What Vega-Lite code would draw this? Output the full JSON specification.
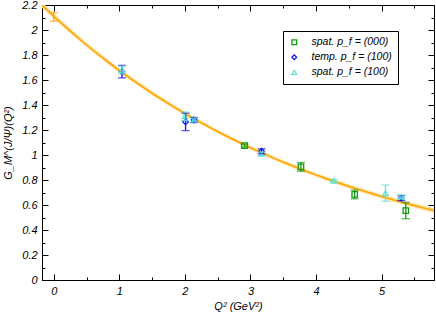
{
  "$schema": "https://vega.github.io/schema/vega-lite/v6.json",
  "autosize": {"type": "none"},
  "width": 392,
  "height": 275,
  "padding": {"left": 42, "top": 5, "right": 2, "bottom": 32},
  "background": "white",
  "config": {
    "view": {"stroke": "black", "strokeWidth": 1},
    "axis": {"labelFont": "Liberation Sans", "labelFontStyle": "italic", "labelFontSize": 11, "labelColor": "black", "titleFont": "Liberation Sans", "titleFontStyle": "italic", "titleFontWeight": "normal", "titleFontSize": 11, "titleColor": "black", "domainColor": "black", "tickColor": "black", "grid": false},
    "legend": {"labelFont": "Liberation Sans", "labelFontStyle": "italic", "labelFontSize": 10.5, "labelColor": "black"}
  },
  "datasets": {
    "curve": [
      {"q2": -0.2, "g": 2.209}, {"q2": 0.0, "g": 2.110}, {"q2": 0.2, "g": 2.015}, {"q2": 0.4, "g": 1.924},
      {"q2": 0.6, "g": 1.838}, {"q2": 0.8, "g": 1.755}, {"q2": 1.0, "g": 1.676}, {"q2": 1.2, "g": 1.601},
      {"q2": 1.4, "g": 1.529}, {"q2": 1.6, "g": 1.460}, {"q2": 1.8, "g": 1.395}, {"q2": 2.0, "g": 1.332},
      {"q2": 2.2, "g": 1.272}, {"q2": 2.4, "g": 1.215}, {"q2": 2.6, "g": 1.160}, {"q2": 2.8, "g": 1.108},
      {"q2": 3.0, "g": 1.058}, {"q2": 3.2, "g": 1.011}, {"q2": 3.4, "g": 0.965}, {"q2": 3.6, "g": 0.922},
      {"q2": 3.8, "g": 0.880}, {"q2": 4.0, "g": 0.841}, {"q2": 4.2, "g": 0.803}, {"q2": 4.4, "g": 0.767},
      {"q2": 4.6, "g": 0.732}, {"q2": 4.8, "g": 0.700}, {"q2": 5.0, "g": 0.668}, {"q2": 5.2, "g": 0.638},
      {"q2": 5.4, "g": 0.609}, {"q2": 5.6, "g": 0.582}, {"q2": 5.8, "g": 0.556}, {"q2": 6.0, "g": 0.531}
    ],
    "band": [
      {"q2": -0.2, "lo": 2.185, "hi": 2.233}, {"q2": 0.0, "lo": 2.088, "hi": 2.132}, {"q2": 0.5, "lo": 1.860, "hi": 1.900},
      {"q2": 1.0, "lo": 1.657, "hi": 1.695}, {"q2": 1.5, "lo": 1.476, "hi": 1.512}, {"q2": 2.0, "lo": 1.315, "hi": 1.349},
      {"q2": 2.5, "lo": 1.171, "hi": 1.203}, {"q2": 3.0, "lo": 1.042, "hi": 1.074}, {"q2": 3.5, "lo": 0.927, "hi": 0.959},
      {"q2": 4.0, "lo": 0.825, "hi": 0.857}, {"q2": 4.5, "lo": 0.733, "hi": 0.767}, {"q2": 5.0, "lo": 0.650, "hi": 0.686},
      {"q2": 5.5, "lo": 0.576, "hi": 0.614}, {"q2": 6.0, "lo": 0.510, "hi": 0.552}
    ],
    "pts": [
      {"s": "Q2=0", "q2": 0.0, "g": 2.105, "lo": 2.07, "hi": 2.14},
      {"s": "spat. p_f = (000)", "q2": 2.91, "g": 1.075, "lo": 1.063, "hi": 1.087},
      {"s": "spat. p_f = (000)", "q2": 3.77, "g": 0.905, "lo": 0.87, "hi": 0.94},
      {"s": "spat. p_f = (000)", "q2": 4.59, "g": 0.685, "lo": 0.65, "hi": 0.72},
      {"s": "spat. p_f = (000)", "q2": 5.37, "g": 0.555, "lo": 0.49, "hi": 0.62},
      {"s": "temp. p_f = (100)", "q2": 1.04, "g": 1.667, "lo": 1.617, "hi": 1.717},
      {"s": "temp. p_f = (100)", "q2": 2.01, "g": 1.265, "lo": 1.195, "hi": 1.335},
      {"s": "temp. p_f = (100)", "q2": 2.14, "g": 1.28, "lo": 1.26, "hi": 1.30},
      {"s": "temp. p_f = (100)", "q2": 3.17, "g": 1.03, "lo": 1.01, "hi": 1.05},
      {"s": "temp. p_f = (100)", "q2": 5.30, "g": 0.655, "lo": 0.635, "hi": 0.675},
      {"s": "spat. p_f = (100)", "q2": 1.04, "g": 1.68, "lo": 1.65, "hi": 1.71},
      {"s": "spat. p_f = (100)", "q2": 2.0, "g": 1.31, "lo": 1.275, "hi": 1.345},
      {"s": "spat. p_f = (100)", "q2": 2.14, "g": 1.28, "lo": 1.265, "hi": 1.295},
      {"s": "spat. p_f = (100)", "q2": 3.17, "g": 1.01, "lo": 0.995, "hi": 1.025},
      {"s": "spat. p_f = (100)", "q2": 4.27, "g": 0.795, "lo": 0.785, "hi": 0.805},
      {"s": "spat. p_f = (100)", "q2": 5.06, "g": 0.695, "lo": 0.63, "hi": 0.76},
      {"s": "spat. p_f = (100)", "q2": 5.30, "g": 0.665, "lo": 0.65, "hi": 0.68}
    ]
  },
  "resolve": {"axis": {"x": "independent", "y": "independent"}},
  "layer": [
    {
      "data": {"name": "band"},
      "mark": {"type": "area", "color": "#FFE3A8", "opacity": 1, "clip": true},
      "encoding": {
        "x": {"field": "q2", "type": "quantitative", "scale": {"domain": [-0.18, 5.8], "nice": false, "zero": false},
          "axis": {"orient": "bottom", "values": [0, 1, 2, 3, 4, 5], "tickSize": -6, "labelPadding": 11, "title": "Q² (GeV²)", "titlePadding": 4, "labelFlush": false}},
        "y": {"field": "lo", "type": "quantitative", "scale": {"domain": [0, 2.2], "nice": false, "zero": false},
          "axis": {"orient": "left", "values": [0, 0.2, 0.4, 0.6, 0.8, 1, 1.2, 1.4, 1.6, 1.8, 2, 2.2], "format": "~g", "tickSize": -6, "labelPadding": 11, "title": "G_M^(J/Ψ)(Q²)", "titlePadding": 8, "labelFlush": false}},
        "y2": {"field": "hi"}
      }
    },
    {
      "data": {"name": "curve"},
      "mark": {"type": "line", "color": "#FFA500", "strokeWidth": 1.6, "clip": true},
      "encoding": {
        "x": {"field": "q2", "type": "quantitative", "axis": {"orient": "top", "values": [0, 1, 2, 3, 4, 5], "tickSize": -6, "labels": false, "title": null}},
        "y": {"field": "g", "type": "quantitative", "axis": {"orient": "right", "values": [0, 0.2, 0.4, 0.6, 0.8, 1, 1.2, 1.4, 1.6, 1.8, 2, 2.2], "tickSize": -6, "labels": false, "title": null}}
      }
    },
    {
      "data": {"name": "pts"},
      "transform": [{"filter": "datum.s != 'Q2=0'"}],
      "mark": {"type": "point", "filled": false, "strokeWidth": 1.3, "size": 30, "opacity": 1},
      "encoding": {
        "x": {"field": "q2", "type": "quantitative", "axis": null},
        "y": {"field": "g", "type": "quantitative", "axis": null},
        "color": {"field": "s", "type": "nominal", "scale": {"domain": ["spat. p_f = (000)", "temp. p_f = (100)", "spat. p_f = (100)"], "range": ["#109A10", "#1515F0", "#5FE3D5"]},
          "legend": {"title": null, "orient": "none", "legendX": 241, "legendY": 26, "strokeColor": "black", "fillColor": "white", "padding": 6, "rowPadding": 4, "symbolSize": 22, "symbolStrokeWidth": 1.3, "labelOffset": 12}},
        "shape": {"field": "s", "type": "nominal", "scale": {"domain": ["spat. p_f = (000)", "temp. p_f = (100)", "spat. p_f = (100)"], "range": ["square", "diamond", "triangle-up"]},
          "legend": {"title": null, "orient": "none", "legendX": 241, "legendY": 26, "strokeColor": "black", "fillColor": "white", "padding": 6, "rowPadding": 4, "symbolSize": 22, "symbolStrokeWidth": 1.3, "labelOffset": 12}}
      }
    },
    {
      "data": {"name": "pts"},
      "mark": {"type": "rule", "strokeWidth": 1.3},
      "encoding": {
        "x": {"field": "q2", "type": "quantitative", "axis": {"orient": "bottom", "values": [0.5, 1.5, 2.5, 3.5, 4.5, 5.5], "tickSize": -3, "labels": false, "domain": false, "title": null}},
        "y": {"field": "lo", "type": "quantitative", "axis": {"orient": "left", "values": [0.1, 0.3, 0.5, 0.7, 0.9, 1.1, 1.3, 1.5, 1.7, 1.9, 2.1], "tickSize": -3, "labels": false, "domain": false, "title": null}},
        "y2": {"field": "hi"},
        "stroke": {"field": "s", "type": "nominal", "scale": {"domain": ["spat. p_f = (000)", "temp. p_f = (100)", "spat. p_f = (100)", "Q2=0"], "range": ["#109A10", "#1515F0", "#5FE3D5", "#FFA500"]}, "legend": null}
      }
    },
    {
      "data": {"name": "pts"},
      "mark": {"type": "tick", "orient": "horizontal", "size": 8, "thickness": 1.3},
      "encoding": {
        "x": {"field": "q2", "type": "quantitative", "axis": {"orient": "top", "values": [0.5, 1.5, 2.5, 3.5, 4.5, 5.5], "tickSize": -3, "labels": false, "domain": false, "title": null}},
        "y": {"field": "lo", "type": "quantitative", "axis": {"orient": "right", "values": [0.1, 0.3, 0.5, 0.7, 0.9, 1.1, 1.3, 1.5, 1.7, 1.9, 2.1], "tickSize": -3, "labels": false, "domain": false, "title": null}},
        "fill": {"field": "s", "type": "nominal", "scale": {"domain": ["spat. p_f = (000)", "temp. p_f = (100)", "spat. p_f = (100)", "Q2=0"], "range": ["#109A10", "#1515F0", "#5FE3D5", "#FFA500"]}, "legend": null}
      }
    },
    {
      "data": {"name": "pts"},
      "mark": {"type": "tick", "orient": "horizontal", "size": 8, "thickness": 1.3},
      "encoding": {
        "x": {"field": "q2", "type": "quantitative", "axis": null},
        "y": {"field": "hi", "type": "quantitative", "axis": null},
        "fill": {"field": "s", "type": "nominal", "legend": null}
      }
    }
  ]
}
